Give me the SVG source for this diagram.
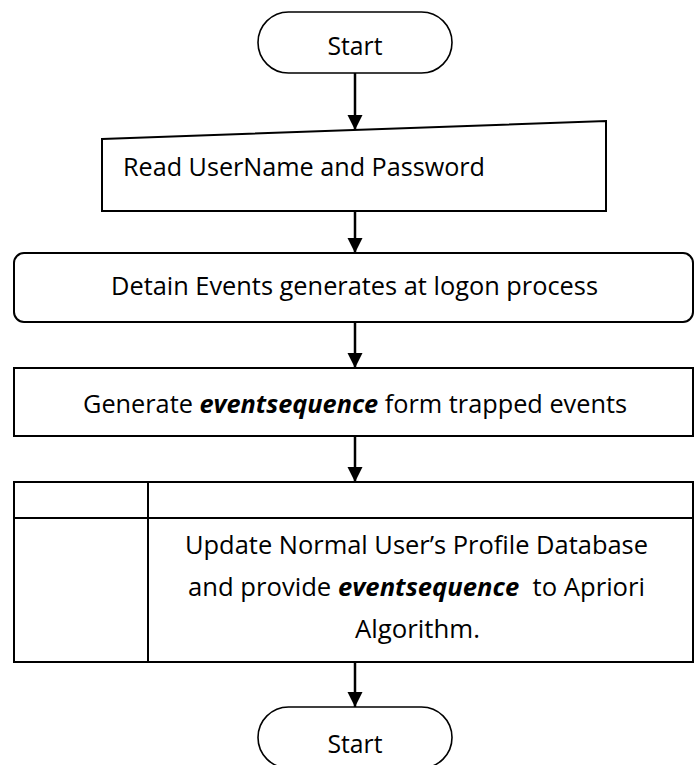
<svg xmlns="http://www.w3.org/2000/svg" width="700" height="765" viewBox="0 0 700 765">
  <style>
    .box { fill: #ffffff; stroke: #000000; stroke-width: 2; }
    .term { fill: #ffffff; stroke: #000000; stroke-width: 1.6; }
    .flow { stroke: #000000; stroke-width: 2.5; fill: none; }
    .lbl { font-family: "Open Sans", "Noto Sans", sans-serif; font-size: 25px; fill: #000000; }
    .mid { text-anchor: middle; }
    .em { font-weight: bold; font-style: italic; }
  </style>
  <defs>
    <marker id="arrow" markerUnits="userSpaceOnUse" markerWidth="16" markerHeight="16" viewBox="0 0 16 16" refX="15" refY="8" orient="auto">
      <path d="M0,0.5 L15,8 L0,15.5 Z" fill="#000000"/>
    </marker>
  </defs>

  <rect width="700" height="765" fill="#ffffff"/>

  <!-- connectors -->
  <g id="connectors">
    <line class="flow" x1="355" y1="73" x2="355" y2="130" marker-end="url(#arrow)"/>
    <line class="flow" x1="355" y1="211" x2="355" y2="253" marker-end="url(#arrow)"/>
    <line class="flow" x1="355" y1="322" x2="355" y2="368" marker-end="url(#arrow)"/>
    <line class="flow" x1="355" y1="436" x2="355" y2="482" marker-end="url(#arrow)"/>
    <line class="flow" x1="355" y1="662" x2="355" y2="707" marker-end="url(#arrow)"/>
  </g>

  <!-- start terminal -->
  <g id="start-top">
    <rect class="term" x="258" y="12" width="194" height="61" rx="30.5" ry="30.5"/>
    <text class="lbl mid" x="355" y="55" textLength="55" lengthAdjust="spacingAndGlyphs">Start</text>
  </g>

  <!-- manual input -->
  <g id="read-input">
    <polygon class="box" points="102,139 606,121 606,211 102,211"/>
    <text class="lbl" x="123" y="176" textLength="362" lengthAdjust="spacingAndGlyphs">Read UserName and Password</text>
  </g>

  <!-- event capture -->
  <g id="detain-events">
    <rect class="box" x="14" y="253" width="679" height="69" rx="10" ry="10"/>
    <text class="lbl mid" x="354.5" y="295" textLength="487" lengthAdjust="spacingAndGlyphs">Detain Events generates at logon process</text>
  </g>

  <!-- sequence generation -->
  <g id="generate-sequence">
    <rect class="box" x="14" y="368" width="679" height="68"/>
    <text class="lbl mid" x="355" y="413" textLength="544" lengthAdjust="spacingAndGlyphs">Generate <tspan class="em">eventsequence</tspan> form trapped events</text>
  </g>

  <!-- profile update (internal storage) -->
  <g id="update-profile">
    <rect class="box" x="14" y="482" width="679" height="180"/>
    <line class="box" x1="14" y1="518" x2="693" y2="518"/>
    <line class="box" x1="148" y1="482" x2="148" y2="662"/>
    <text class="lbl mid" x="416.5" y="554" textLength="463" lengthAdjust="spacingAndGlyphs">Update Normal User’s Profile Database</text>
    <text class="lbl mid" x="416.5" y="596" textLength="457" lengthAdjust="spacingAndGlyphs" style="white-space:pre">and provide <tspan class="em">eventsequence</tspan>  to Apriori</text>
    <text class="lbl mid" x="417.5" y="638" textLength="125" lengthAdjust="spacingAndGlyphs">Algorithm.</text>
  </g>

  <!-- end terminal -->
  <g id="start-bottom">
    <rect class="term" x="258" y="707" width="194" height="61" rx="30.5" ry="30.5"/>
    <text class="lbl mid" x="355" y="753" textLength="55" lengthAdjust="spacingAndGlyphs">Start</text>
  </g>
</svg>
